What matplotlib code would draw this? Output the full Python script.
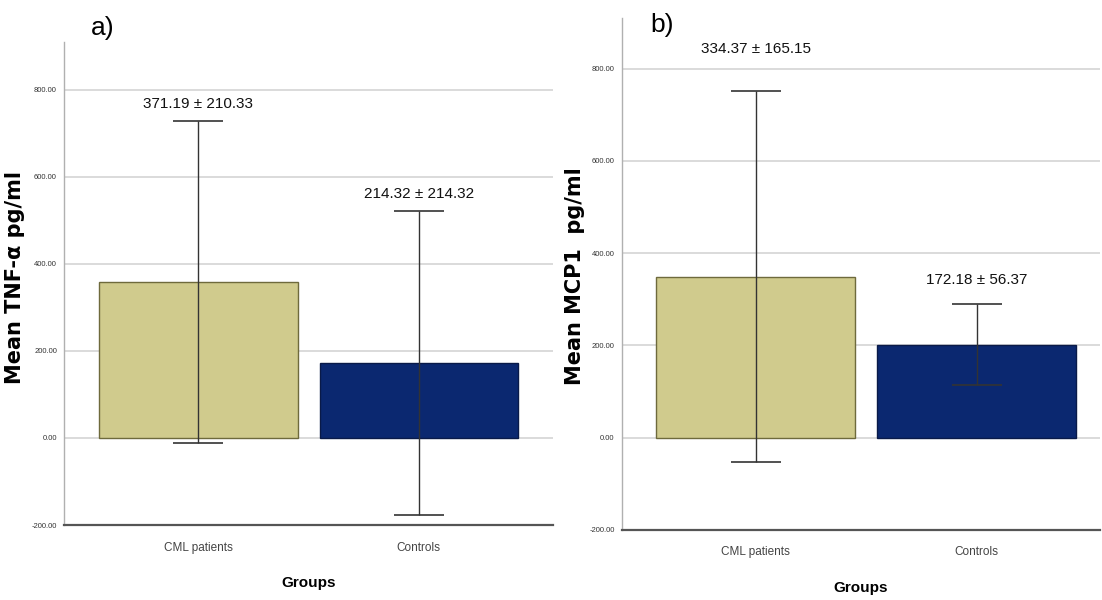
import numpy as np
import matplotlib
matplotlib.use("Agg")
import matplotlib.pyplot as plt

groups = ["CML patients", "Controls"]

# panel a: TNF-alpha
tnf_mean = [359, 172]
tnf_err = [370, 350]
tnf_labels = ["371.19 ± 210.33", "214.32 ± 214.32"]

# panel b: MCP1
mcp_mean = [349, 201]
mcp_err = [403, 88]
mcp_labels = ["334.37 ± 165.15", "172.18 ± 56.37"]

yticks = [-200, 0, 200, 400, 600, 800]
bar_colors = ["#d0cb8d", "#0b2870"]
edge_colors = ["#6e6a3c", "#0a1a48"]

narrow = ["Liberation Sans", "DejaVu Sans"]

fig = plt.figure(figsize=(11.02, 6.0), dpi=100)


def panel(rect, means, errs, labels, ylabel, ylab_xy, tag, tag_xy, xlim,
          pads, xlab_y):
    ax = fig.add_axes(rect)
    x = np.arange(len(groups))
    ax.bar(x, means, width=0.9, color=bar_colors, edgecolor=edge_colors,
           linewidth=1.0, zorder=2)
    ax.errorbar(x, means, yerr=errs, fmt="none", ecolor="#333333",
                elinewidth=1.0, capsize=18, capthick=1.2, zorder=3)
    for xi, m, e, t, p in zip(x, means, errs, labels, pads):
        ax.text(xi, m + e + p, t, ha="center", va="bottom",
                fontsize=11, family=narrow, color="#111111")
    ax.set_xlim(*xlim)
    ax.set_ylim(-200, 910)
    ax.set_yticks(yticks)
    ax.set_yticklabels([f"{v:.2f}" for v in yticks], fontsize=5.5,
                       family=narrow, color="#333333")
    ax.set_xticks(x)
    ax.set_xticklabels(groups, fontsize=8.5, family=narrow, color="#444444")
    ax.tick_params(length=0, pad=5)
    ax.tick_params(axis="x", pad=12)
    ax.yaxis.grid(True, color="#d4d4d4", linewidth=1.2, zorder=0)
    ax.set_axisbelow(True)
    for s in ["top", "right"]:
        ax.spines[s].set_visible(False)
    ax.spines["left"].set_color("#b0b0b0")
    ax.spines["left"].set_linewidth(1.0)
    ax.spines["bottom"].set_color("#555555")
    ax.spines["bottom"].set_linewidth(1.6)
    ax.set_xlabel("Groups", fontsize=11, fontweight="bold", family=narrow)
    ax.xaxis.set_label_coords(0.5, xlab_y)
    ax.set_ylabel(ylabel, fontsize=15, fontweight="bold", family="DejaVu Sans")
    ax.yaxis.set_label_coords(*ylab_xy)
    fig.text(tag_xy[0], tag_xy[1], tag, fontsize=19, family=narrow,
             ha="center", va="center")
    return ax


panel([0.058, 0.125, 0.444, 0.805], tnf_mean, tnf_err, tnf_labels,
      "Mean TNF-α pg/ml", (-0.08, 0.513), "a)", (0.093, 0.953),
      (-0.61, 1.61), [22, 22], -0.105)
panel([0.564, 0.117, 0.434, 0.853], mcp_mean, mcp_err, mcp_labels,
      "Mean MCP1  pg/ml", (-0.077, 0.496), "b)", (0.601, 0.958),
      (-0.606, 1.557), [75, 38], -0.1)

fig.savefig("out.png", dpi=100)
